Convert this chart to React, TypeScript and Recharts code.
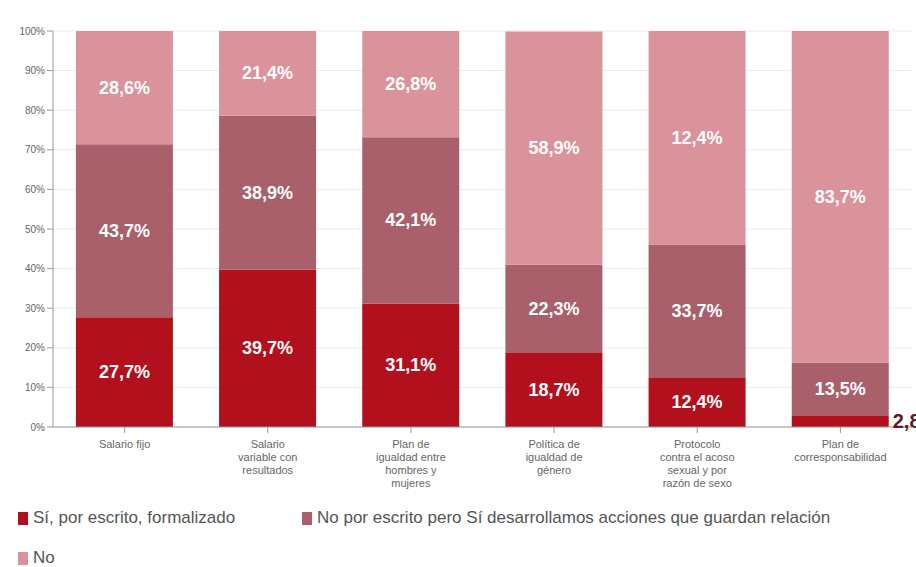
import { BarChart, Bar, XAxis, YAxis, CartesianGrid, LabelList, Text } from "recharts"

const CATEGORIES = [
  "Salario fijo",
  "Salario variable con resultados",
  "Plan de igualdad entre hombres y mujeres",
  "Política de igualdad de género",
  "Protocolo contra el acoso sexual y por razón de sexo",
  "Plan de corresponsabilidad",
]

const SI_FORMAL = [27.7, 39.7, 31.1, 18.7, 12.4, 2.8]
const NO_PERO_SI = [43.7, 38.9, 42.1, 22.3, 33.7, 13.5]
const NO = [28.6, 21.4, 26.8, 58.9, 53.9, 83.7]
// top labels as printed in the source (the 5th one reads 12,4%)
const NO_LABELS = ["28,6%", "21,4%", "26,8%", "58,9%", "12,4%", "83,7%"]

const Y_TICKS = [0, 10, 20, 30, 40, 50, 60, 70, 80, 90, 100]

const SERIES = [
  { key: "si", name: "Sí, por escrito, formalizado", color: "#b3101d" },
  { key: "mid", name: "No por escrito pero Sí desarrollamos acciones que guardan relación", color: "#a9606a" },
  { key: "no", name: "No", color: "#da929b" },
]

const data = CATEGORIES.map((name, i) => ({
  name,
  si: SI_FORMAL[i],
  mid: NO_PERO_SI[i],
  no: NO[i],
  noLabel: NO_LABELS[i],
}))

const pct = (v: number) => `${v.toFixed(1).replace(".", ",")}%`

function InsideLabel(props: any) {
  const { x, y, width, height, value } = props
  const text = typeof value === "number" ? pct(value) : value
  return (
    <text
      x={x + width / 2}
      y={y + height / 2}
      fill="#fff"
      fontSize={18}
      fontWeight="bold"
      textAnchor="middle"
      dominantBaseline="central"
    >
      {text}
    </text>
  )
}

function BottomLabel(props: any) {
  const { x, y, width, height, value } = props
  if (value < 5) {
    // too thin for an inside label, goes to the right of the bar
    return (
      <text
        x={x + width + 4}
        y={y + height / 2}
        fill="#5c1820"
        fontSize={20}
        fontWeight="bold"
        textAnchor="start"
        dominantBaseline="central"
      >
        {pct(value).replace("%", "")}
      </text>
    )
  }
  return <InsideLabel {...props} />
}

function CategoryTick(props: any) {
  const { x, y, payload } = props
  return (
    <Text x={x} y={y + 5} width={100} textAnchor="middle" verticalAnchor="start" fontSize={11} fill="#666" lineHeight={13}>
      {payload.value}
    </Text>
  )
}

export default function App() {
  return (
    <div style={{ position: "absolute", left: 0, top: 0, width: 916, height: 567, background: "#fff", fontFamily: "'Liberation Sans', Arial, sans-serif", overflow: "hidden" }}>
      <BarChart
        width={916}
        height={490}
        data={data}
        margin={{ top: 31, right: 4, left: 0, bottom: 0 }}
        barCategoryGap="16%"
      >
        <CartesianGrid vertical={false} stroke="#ececec" />
        <XAxis
          dataKey="name"
          tick={<CategoryTick />}
          height={63}
          interval={0}
          stroke="#999"
          tickLine={{ stroke: "#999" }}
        />
        <YAxis
          domain={[0, 100]}
          ticks={Y_TICKS}
          tickFormatter={(v) => `${v}%`}
          width={53}
          tick={{ fontSize: 10, fill: "#666" }}
          stroke="#999"
        />
        <Bar dataKey="si" stackId="a" fill={SERIES[0].color} isAnimationActive={false}>
          <LabelList dataKey="si" content={<BottomLabel />} />
        </Bar>
        <Bar dataKey="mid" stackId="a" fill={SERIES[1].color} isAnimationActive={false}>
          <LabelList dataKey="mid" content={<InsideLabel />} />
        </Bar>
        <Bar dataKey="no" stackId="a" fill={SERIES[2].color} isAnimationActive={false}>
          <LabelList dataKey="noLabel" content={<InsideLabel />} />
        </Bar>
      </BarChart>
      <div style={{ position: "absolute", left: 18, top: 508, width: 890, display: "flex", flexWrap: "wrap", rowGap: 20, fontSize: 17, color: "#555" }}>
        {SERIES.map((s, i) => (
          <div key={s.key} style={{ display: "flex", alignItems: "center", width: i === 0 ? 284 : i === 1 ? 590 : "100%" }}>
            <span style={{ display: "inline-block", width: 10, height: 13, background: s.color, marginRight: 5 }} />
            {s.name}
          </div>
        ))}
      </div>
    </div>
  )
}
